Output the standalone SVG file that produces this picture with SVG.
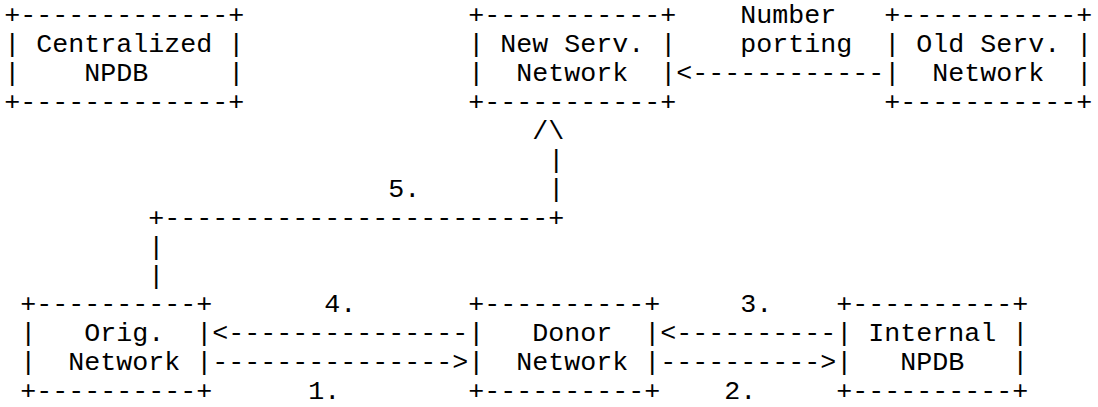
<svg xmlns="http://www.w3.org/2000/svg" width="1098" height="407" viewBox="0 0 1098 407">
<style>
text{font-size:26.67px;fill:#000;white-space:pre}
.b{font-family:"Courier New",Courier,"Nimbus Mono PS","Nimbus Mono L",FreeMono,"Liberation Mono",monospace}
.c{font-family:"Liberation Mono","DejaVu Sans Mono",monospace}
</style>
<rect width="1098" height="407" fill="#fff"/>
<g id="centralized-npdb">
<text class="b" x="4.3" y="23.4">+-------------+</text>
<text class="b" x="4.3" y="52.3">| Centralized |</text>
<text class="b" x="4.3" y="81.2">|    NPDB     |</text>
<text class="b" x="4.3" y="110.1">+-------------+</text>
</g>
<g id="new-serv-network">
<text class="b" x="468.3" y="23.4">+-----------+</text>
<text class="b" x="468.3" y="52.3">| New Serv. |</text>
<text class="b" x="468.3" y="81.2">|  Network  |</text>
<text class="b" x="468.3" y="110.1">+-----------+</text>
</g>
<g id="old-serv-network">
<text class="b" x="884.3" y="23.4">+-----------+</text>
<text class="b" x="884.3" y="52.3">| Old Serv. |</text>
<text class="b" x="884.3" y="81.2">|  Network  |</text>
<text class="b" x="884.3" y="110.1">+-----------+</text>
</g>
<g id="orig-network">
<text class="b" x="20.3" y="312.4">+----------+</text>
<text class="b" x="20.3" y="341.3">|   Orig.  |</text>
<text class="b" x="20.3" y="370.2">|  Network |</text>
<text class="b" x="20.3" y="399.1">+----------+</text>
</g>
<g id="donor-network">
<text class="b" x="468.3" y="312.4">+----------+</text>
<text class="b" x="468.3" y="341.3">|   Donor  |</text>
<text class="b" x="468.3" y="370.2">|  Network |</text>
<text class="b" x="468.3" y="399.1">+----------+</text>
</g>
<g id="internal-npdb">
<text class="b" x="836.3" y="312.4">+----------+</text>
<text class="b" x="836.3" y="341.3">| Internal |</text>
<text class="b" x="836.3" y="370.2">|   NPDB   |</text>
<text class="b" x="836.3" y="399.1">+----------+</text>
</g>
<g id="connectors">
<text class="b" x="740.3" y="23.4">Number</text>
<text class="b" x="740.3" y="52.3">porting</text>
<text class="c" x="676.3" y="81.2">&lt;------------</text>
<text class="c" x="532.3" y="139.0">/\</text>
<text class="c" x="548.3" y="167.9">|</text>
<text class="c" x="388.3" y="196.8">5.</text>
<text class="c" x="548.3" y="196.8">|</text>
<text class="c" x="148.3" y="225.7">+------------------------+</text>
<text class="c" x="148.3" y="254.6">|</text>
<text class="c" x="148.3" y="283.5">|</text>
<text class="c" x="324.3" y="312.4">4.</text>
<text class="c" x="740.3" y="312.4">3.</text>
<text class="c" x="212.3" y="341.3">&lt;---------------</text>
<text class="c" x="660.3" y="341.3">&lt;----------</text>
<text class="c" x="212.3" y="370.2">---------------&gt;</text>
<text class="c" x="660.3" y="370.2">----------&gt;</text>
<text class="c" x="308.3" y="399.1">1.</text>
<text class="c" x="724.3" y="399.1">2.</text>
</g>
</svg>
